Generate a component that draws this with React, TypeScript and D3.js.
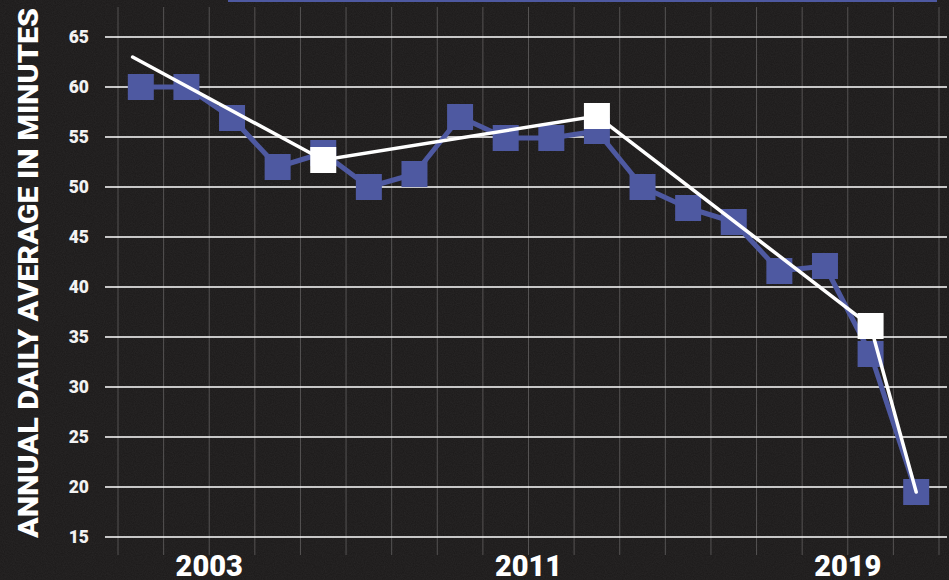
import React, { useEffect, useRef } from 'react';
import * as d3 from 'd3';

// one slot per reading, left to right
const periods = [
  'p01', 'p02', 'p03', 'p04', 'p05', 'p06', 'p07', 'p08', 'p09',
  'p10', 'p11', 'p12', 'p13', 'p14', 'p15', 'p16', 'p17', 'p18',
];
const minutes = [
  60, 60, 56.9, 52, 53.4, 50, 51.3, 57, 54.9,
  54.9, 55.6, 50, 47.9, 46.5, 41.6, 42.1, 33.3, 19.5,
];

// white trend line: slot index (fractional) and value
const trendSlots = [-0.18, 4, 10, 16, 17];
const trendValues = [63, 52.7, 57.1, 36.1, 19.5];
const trendMarked = [false, true, true, true, false];

const yTicks = [15, 20, 25, 30, 35, 40, 45, 50, 55, 60, 65];
const yearLabels = ['2003', '2011', '2019'];
const yearLabelSlots = [2, 9, 16];

const W = 949;
const H = 580;
const BLUE = '#4e59a1';

export default function App() {
  const svgRef = useRef<SVGSVGElement | null>(null);

  useEffect(() => {
    const svg = d3.select(svgRef.current!);
    svg.selectAll('*').remove();

    const x = d3.scaleBand<string>().domain(periods).range([118, 939]).padding(0);
    const y = d3.scaleLinear().domain([15, 65]).range([537, 37]);
    const step = x.step();
    const cx = (i: number) => x.range()[0] + step * (i + 0.5);

    const defs = svg.append('defs');
    const f = defs.append('filter').attr('id', 'grain').attr('x', 0).attr('y', 0).attr('width', '100%').attr('height', '100%');
    f.append('feTurbulence').attr('type', 'fractalNoise').attr('baseFrequency', 0.9).attr('numOctaves', 2).attr('seed', 3);
    f.append('feColorMatrix').attr('type', 'matrix')
      .attr('values', '0 0 0 0 1  0 0 0 0 1  0 0 0 0 1  0 0 0 0.06 0');

    svg.append('rect').attr('width', W).attr('height', H).attr('fill', '#1b1919');
    svg.append('rect').attr('width', W).attr('height', H).attr('filter', 'url(#grain)');

    // top strip
    svg.append('rect').attr('x', 228).attr('y', 0).attr('width', 709).attr('height', 2).attr('fill', BLUE);

    // vertical grid at slot edges
    const edges = d3.range(periods.length + 1).map((i) => x.range()[0] + i * step);
    svg.append('g').selectAll('line').data(edges).join('line')
      .attr('x1', (d) => d).attr('x2', (d) => d)
      .attr('y1', 7).attr('y2', 555)
      .attr('stroke', '#555353').attr('stroke-width', 1);

    // horizontal grid
    svg.append('g').selectAll('line').data(yTicks).join('line')
      .attr('x1', 105).attr('x2', 947)
      .attr('y1', (d) => y(d)).attr('y2', (d) => y(d))
      .attr('stroke', '#ffffff').attr('stroke-width', 1.5);

    // y tick labels
    svg.append('g').selectAll('text').data(yTicks).join('text')
      .attr('x', 89).attr('y', (d) => y(d) + 6)
      .attr('text-anchor', 'end')
      .attr('font-family', 'Roboto, sans-serif').attr('font-weight', 900)
      .attr('font-size', 17.5).attr('fill', '#f2f2f2')
      .text((d) => d);

    // y title
    svg.append('text')
      .attr('transform', 'translate(38,273) rotate(-90)')
      .attr('text-anchor', 'middle')
      .attr('font-family', 'Roboto, sans-serif').attr('font-weight', 900)
      .attr('font-size', 27).attr('fill', '#ffffff')
      .attr('textLength', 530).attr('lengthAdjust', 'spacingAndGlyphs')
      .text('ANNUAL DAILY AVERAGE IN MINUTES');

    // year labels
    svg.append('g').selectAll('text').data(yearLabels).join('text')
      .attr('x', (_, i) => x.range()[0] + yearLabelSlots[i] * step)
      .attr('y', 576)
      .attr('text-anchor', 'middle')
      .attr('font-family', 'Roboto, sans-serif').attr('font-weight', 900)
      .attr('font-size', 29).attr('fill', '#ffffff')
      .text((d) => d);

    // blue series
    const pts = minutes.map((v, i) => [cx(i), y(v)] as [number, number]);
    svg.append('path').attr('d', d3.line()(pts)!)
      .attr('fill', 'none').attr('stroke', BLUE).attr('stroke-width', 5)
      .attr('stroke-linejoin', 'round');
    const sq = 26;
    svg.append('g').selectAll('rect').data(pts).join('rect')
      .attr('x', (d) => d[0] - sq / 2).attr('y', (d) => d[1] - sq / 2)
      .attr('width', sq).attr('height', sq).attr('fill', BLUE);

    // white trend
    const tpts = trendSlots.map((s, i) => [cx(s), y(trendValues[i])] as [number, number]);
    svg.append('path').attr('d', d3.line()(tpts)!)
      .attr('fill', 'none').attr('stroke', '#ffffff').attr('stroke-width', 3.5)
      .attr('stroke-linecap', 'round');
    svg.append('g').selectAll('rect').data(tpts.filter((_, i) => trendMarked[i])).join('rect')
      .attr('x', (d) => d[0] - sq / 2).attr('y', (d) => d[1] - sq / 2)
      .attr('width', sq).attr('height', sq).attr('fill', '#ffffff');
  }, []);

  return (
    <div style={{ position: 'fixed', left: 0, top: 0 }}>
      <svg ref={svgRef} width={W} height={H} style={{ display: 'block' }} />
    </div>
  );
}
